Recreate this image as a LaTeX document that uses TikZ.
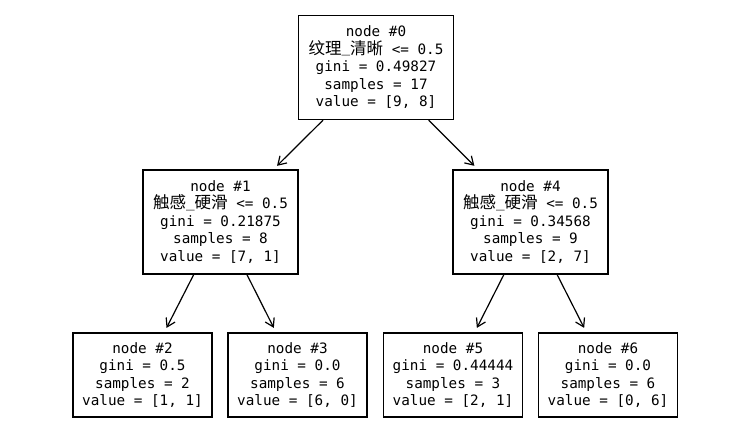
\documentclass[tikz,border=0pt]{standalone}
\usepackage{fontspec}
\setmonofont{DejaVu Sans Mono}
\newfontfamily\cjk{Noto Sans CJK SC}
\usetikzlibrary{arrows.meta}
\newcommand{\zh}[1]{{\cjk\fontsize{16.5}{17.5}\selectfont #1}}
\newcommand{\us}{\raisebox{1.5pt}{\_}}
\begin{document}
\begin{tikzpicture}[x=1pt,y=-1pt,
  box/.style={draw=black,line width=1.3pt,inner sep=0pt,align=center,
    font={\ttfamily\fontsize{14.3}{17.5}\selectfont\lineskiplimit=-20pt}},
  inner/.style={box,minimum width=155pt,minimum height=104pt},
  leaf/.style={box,minimum width=139pt,minimum height=84pt},
  arr/.style={line width=1.2pt,-{Straight Barb[length=8pt,width=10pt,line width=1.2pt]},shorten >=5pt}]
\fill[white] (0,0) rectangle (750,433);
\useasboundingbox (0,0) rectangle (750,433);
\node[inner] (n0) at (376,67.5) {node \#0\\\zh{纹理}\us\zh{清晰} <= 0.5\\gini = 0.49827\\samples = 17\\value = [9, 8]};
\node[inner] (n1) at (220.5,222) {node \#1\\\zh{触感}\us\zh{硬滑} <= 0.5\\gini = 0.21875\\samples = 8\\value = [7, 1]};
\node[inner] (n4) at (530.5,222) {node \#4\\\zh{触感}\us\zh{硬滑} <= 0.5\\gini = 0.34568\\samples = 9\\value = [2, 7]};
\node[leaf] (n2) at (142.5,375) {node \#2\\gini = 0.5\\samples = 2\\value = [1, 1]};
\node[leaf] (n3) at (297.5,375) {node \#3\\gini = 0.0\\samples = 6\\value = [6, 0]};
\node[leaf] (n5) at (453,375) {node \#5\\gini = 0.44444\\samples = 3\\value = [2, 1]};
\node[leaf] (n6) at (608,375) {node \#6\\gini = 0.0\\samples = 6\\value = [0, 6]};
\draw[arr] (n0) -- (n1);
\draw[arr] (n0) -- (n4);
\draw[arr] (n1) -- (n2);
\draw[arr] (n1) -- (n3);
\draw[arr] (n4) -- (n5);
\draw[arr] (n4) -- (n6);
\end{tikzpicture}
\end{document}
